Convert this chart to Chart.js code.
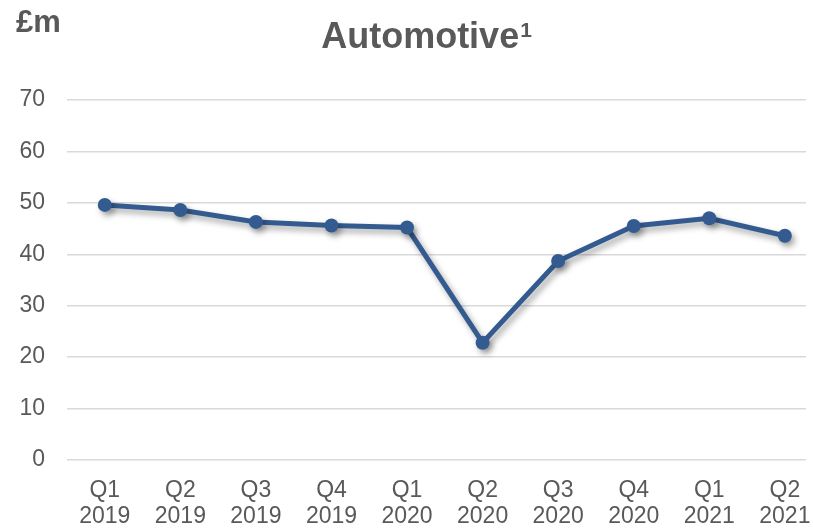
<!DOCTYPE html>
<html>
<head>
<meta charset="utf-8">
<script src="https://cdn.jsdelivr.net/npm/chart.js@4.4.1/dist/chart.umd.min.js"></script>
<style>
  html, body { margin: 0; padding: 0; background: #fff; }
  #wrap { width: 813px; height: 528px; }
</style>
</head>
<body>
<div id="wrap"><canvas id="autoChart"></canvas></div>
<script>
// quarterly automotive figures, £m
var quarters = ["Q1", "Q2", "Q3", "Q4", "Q1", "Q2", "Q3", "Q4", "Q1", "Q2"];
var years = ["2019", "2019", "2019", "2019", "2020", "2020", "2020", "2020", "2021", "2021"];
var values = [49.6, 48.6, 46.3, 45.6, 45.2, 22.8, 38.7, 45.5, 47.0, 43.6];
var yTicks = [0, 10, 20, 30, 40, 50, 60, 70];

var textGrey = "#595959";
var lineBlue = "#345b90";
var fontFamily = "'Liberation Sans', Arial, sans-serif";

// heading with superscript note, and the unit label
var headings = {
  id: "headings",
  afterDraw: function (chart) {
    var ctx = chart.ctx;
    ctx.save();
    ctx.fillStyle = textGrey;
    ctx.textBaseline = "alphabetic";
    ctx.textAlign = "left";
    ctx.font = "bold 31px " + fontFamily;
    ctx.fillText("£m", 16, 32);

    var title = "Automotive", note = "1";
    ctx.font = "bold 36px " + fontFamily;
    var w1 = ctx.measureText(title).width;
    ctx.font = "bold 21px " + fontFamily;
    var w2 = ctx.measureText(note).width;
    var x0 = 426 - (w1 + w2) / 2;
    ctx.font = "bold 36px " + fontFamily;
    ctx.fillText(title, x0, 48);
    ctx.font = "bold 21px " + fontFamily;
    ctx.fillText(note, x0 + w1 + 1, 37);
    ctx.restore();
  }
};

// soft drop shadow under the line
var lineShadow = {
  id: "lineShadow",
  beforeDatasetsDraw: function (chart) {
    var ctx = chart.ctx;
    ctx.save();
    ctx.shadowColor = "rgba(0,0,0,0.35)";
    ctx.shadowBlur = 6;
    ctx.shadowOffsetX = 3;
    ctx.shadowOffsetY = 4;
  },
  afterDatasetsDraw: function (chart) {
    chart.ctx.restore();
  }
};

var points = values.map(function (v, i) { return { x: i, y: v }; });

new Chart(document.getElementById("autoChart"), {
  type: "line",
  data: {
    datasets: [{
      data: points,
      borderColor: lineBlue,
      backgroundColor: lineBlue,
      borderWidth: 5,
      pointRadius: 7,
      pointHoverRadius: 7,
      pointBackgroundColor: lineBlue,
      pointBorderWidth: 0,
      tension: 0
    }]
  },
  options: {
    responsive: true,
    maintainAspectRatio: false,
    animation: false,
    layout: { padding: { top: 100, left: 0, right: 0, bottom: 0 } },
    plugins: {
      legend: { display: false },
      title: { display: false },
      tooltip: { enabled: false }
    },
    scales: {
      x: {
        type: "linear",
        min: -0.5,
        max: 9.28,
        afterBuildTicks: function (scale) {
          scale.ticks = quarters.map(function (q, i) { return { value: i }; });
        },
        afterFit: function (scale) {
          scale.height = 68;
          scale.paddingLeft = 0;
          scale.paddingRight = 0;
        },
        grid: { display: false },
        border: { display: false },
        ticks: {
          color: textGrey,
          padding: 10,
          maxRotation: 0,
          autoSkip: false,
          font: { family: fontFamily, size: 23, lineHeight: 1.12 },
          callback: function (value) { return [quarters[value], years[value]]; }
        }
      },
      y: {
        min: 0,
        max: 70,
        afterBuildTicks: function (scale) {
          scale.ticks = yTicks.map(function (t) { return { value: t }; });
        },
        afterFit: function (scale) { scale.width = 67; },
        grid: { color: "#d9d9d9", lineWidth: 1.5, drawTicks: false },
        border: { display: false },
        ticks: {
          color: textGrey,
          padding: 22,
          font: { family: fontFamily, size: 23 }
        }
      }
    }
  },
  plugins: [headings, lineShadow]
});
</script>
</body>
</html>
